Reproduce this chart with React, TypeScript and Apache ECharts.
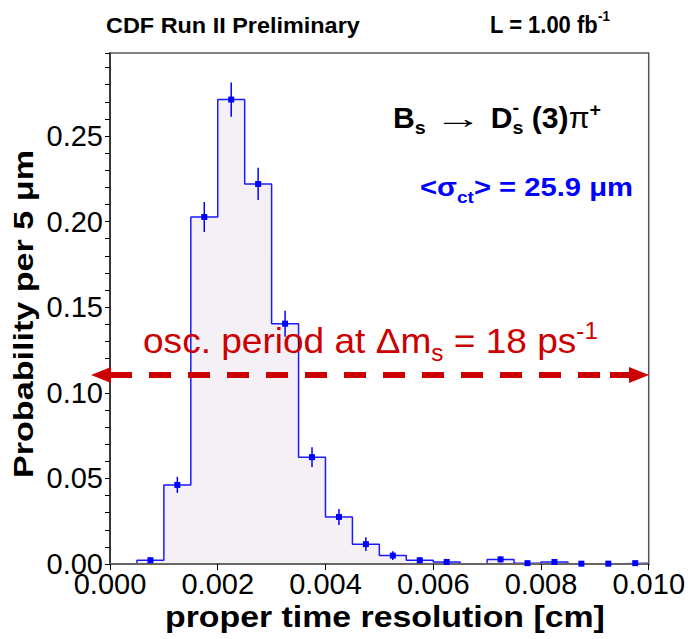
import React, { useEffect, useRef } from "react";
import * as echarts from "echarts";

// ---------------- data ----------------
const binStarts = [
  0.0, 0.0005, 0.001, 0.0015, 0.002, 0.0025, 0.003, 0.0035, 0.004, 0.0045,
  0.005, 0.0055, 0.006, 0.0065, 0.007, 0.0075, 0.008, 0.0085, 0.009, 0.0095,
];
const binWidth = 0.0005;
const probability = [
  0, 0.0022, 0.0462, 0.2027, 0.2713, 0.222, 0.1404, 0.0624, 0.0275, 0.0116,
  0.0049, 0.0022, 0.0012, 0, 0.0027, 0.0005, 0.0012, 0.0002, 0.0002, 0.0005,
];
const errors = [
  0, 0.0018, 0.0047, 0.0088, 0.01, 0.0094, 0.0076, 0.0058, 0.0047, 0.004,
  0.0025, 0.0018, 0.0012, 0, 0.0018, 0.0008, 0.0012, 0.0005, 0.0005, 0.0008,
];
const xMin = 0;
const xMax = 0.01;
const xInterval = 0.002;
const yMin = 0;
const yMax = 0.2985;
const yInterval = 0.05;

const FONT = "'Liberation Sans', Arial, Helvetica, sans-serif";

type Piece = {
  t: string;
  s: number;
  b?: boolean;
  dy?: number;
  stack?: boolean;
  c?: string;
  sx?: number;
};

function lineEls(
  ctx: CanvasRenderingContext2D,
  x0: number,
  base: number,
  pieces: Piece[],
  color: string,
  targetW?: number
) {
  const widths = pieces.map((p) => {
    ctx.font = `${p.b ? "bold" : "normal"} ${p.s}px ${FONT}`;
    return ctx.measureText(p.t).width * (p.sx || 1);
  });
  let total = 0;
  pieces.forEach((p, i) => {
    if (!p.stack) total += widths[i];
  });
  const f = targetW ? targetW / total : 1;
  let x = x0;
  const els: any[] = [];
  pieces.forEach((p, i) => {
    els.push({
      type: "text",
      x,
      y: base + (p.dy || 0) - 0.35 * p.s,
      scaleX: f * (p.sx || 1),
      silent: true,
      z: 100,
      style: {
        text: p.t,
        fontSize: p.s,
        fontWeight: p.b ? "bold" : "normal",
        fontFamily: FONT,
        fill: p.c || color,
        align: "left",
        verticalAlign: "middle",
      },
    });
    if (!p.stack) x += widths[i] * f;
  });
  return els;
}

export default function App() {
  const ref = useRef<HTMLDivElement>(null);

  useEffect(() => {
    if (!ref.current) return;
    const chart = echarts.init(ref.current, undefined, { renderer: "svg" });
    const canvas = document.createElement("canvas");
    const ctx = canvas.getContext("2d") as CanvasRenderingContext2D;

    const stepData = binStarts.map((x, i) => [x, probability[i]]);
    stepData.push([binStarts[binStarts.length - 1] + binWidth, probability[probability.length - 1]]);
    const errData = binStarts.map((x, i) => [x + binWidth / 2, probability[i], errors[i]]);

    const graphics: any[] = [];
    graphics.push(
      ...lineEls(ctx, 106, 33, [{ t: "CDF Run II Preliminary", s: 23, b: true }], "#000", 254)
    );
    graphics.push(
      ...lineEls(
        ctx,
        490,
        33,
        [
          { t: "L = 1.00 fb", s: 23, b: true },
          { t: "-1", s: 14, b: true, dy: -12 },
        ],
        "#000",
        120
      )
    );
    graphics.push(
      ...lineEls(
        ctx,
        393,
        128,
        [
          { t: "B", s: 29, b: true },
          { t: "s", s: 19, b: true, dy: 6 },
          { t: " ", s: 29 },
          { t: "\u2192", s: 29, sx: 1.6 },
          { t: " ", s: 29 },
          { t: "D", s: 29, b: true },
          { t: "-", s: 19, b: true, dy: -14, stack: true },
          { t: "s", s: 19, b: true, dy: 6 },
          { t: " (3)", s: 29, b: true },
          { t: "\u03c0", s: 29 },
          { t: "+", s: 19, b: true, dy: -12 },
        ],
        "#000",
        208
      )
    );
    graphics.push(
      ...lineEls(
        ctx,
        420,
        196,
        [
          { t: "<\u03c3", s: 26, b: true },
          { t: "ct", s: 17, b: true, dy: 7 },
          { t: "> = 25.9 \u03bcm", s: 26, b: true },
        ],
        "#0000ff",
        213
      )
    );
    graphics.push(
      ...lineEls(
        ctx,
        143,
        353,
        [
          { t: "osc. period at \u0394m", s: 35 },
          { t: "s", s: 23, dy: 8 },
          { t: " = 18 ps", s: 35 },
          { t: "-1", s: 23, dy: -14 },
        ],
        "#cc0000",
        455
      )
    );
    graphics.push(
      ...lineEls(ctx, 165, 627, [{ t: "proper time resolution [cm]", s: 30, b: true }], "#000", 440)
    );
    // y-axis title (rotated)
    {
      ctx.font = `bold 27px ${FONT}`;
      const w = ctx.measureText("Probability per 5 \u03bcm").width;
      graphics.push({
        type: "text",
        x: 24,
        y: 314,
        rotation: Math.PI / 2,
        scaleX: 328 / w,
        silent: true,
        z: 100,
        style: {
          text: "Probability per 5 \u03bcm",
          fontSize: 27,
          fontWeight: "bold",
          fontFamily: FONT,
          fill: "#000",
          align: "center",
          verticalAlign: "middle",
        },
      });
    }
    // arrow
    const red = "#cc0000";
    graphics.push({
      type: "line",
      silent: true,
      z: 90,
      shape: { x1: 110, y1: 375, x2: 632, y2: 375 },
      style: { stroke: red, lineWidth: 6, lineDash: [22, 17] },
    });
    graphics.push({
      type: "polygon",
      silent: true,
      z: 91,
      shape: { points: [[91, 375], [111, 367], [111, 383]] },
      style: { fill: red },
    });
    graphics.push({
      type: "polygon",
      silent: true,
      z: 91,
      shape: { points: [[649, 375], [629, 367], [629, 383]] },
      style: { fill: red },
    });
    graphics.push({
      type: "line",
      silent: true,
      z: 90,
      shape: { x1: 610, y1: 375, x2: 630, y2: 375 },
      style: { stroke: red, lineWidth: 6 },
    });

    chart.setOption({
      animation: false,
      backgroundColor: "#fff",
      grid: {
        left: 110,
        right: 39,
        top: 53,
        bottom: 75,
        show: true,
        borderColor: "#555",
        borderWidth: 1.5,
        backgroundColor: "#fff",
      },
      xAxis: {
        type: "value",
        min: xMin,
        max: xMax,
        interval: xInterval,
        z: 3,
        axisLine: { show: true, lineStyle: { color: "#666", width: 2 } },
        axisTick: { show: true, inside: false, length: 6, lineStyle: { color: "#000", width: 1 } },
        splitLine: { show: false },
        axisLabel: {
          fontSize: 29,
          fontFamily: FONT,
          color: "#000",
          margin: 5,
          formatter: (v: number) => v.toFixed(3),
        },
      },
      yAxis: {
        type: "value",
        min: yMin,
        max: yMax,
        interval: yInterval,
        z: 3,
        axisLine: { show: true, lineStyle: { color: "#222", width: 1.5 } },
        axisTick: { show: true, inside: false, length: 5, lineStyle: { color: "#000", width: 1 } },
        minorTick: { show: true, splitNumber: 5, length: 5, lineStyle: { color: "#000", width: 1 } },
        splitLine: { show: false },
        minorSplitLine: { show: false },
        axisLabel: {
          fontSize: 29,
          fontFamily: FONT,
          color: "#000",
          margin: 7,
          showMaxLabel: false,
          formatter: (v: number) => v.toFixed(2),
        },
      },
      series: [
        {
          type: "line",
          data: stepData,
          step: "end",
          symbol: "none",
          z: 1,
          lineStyle: { color: "#1a1aff", width: 1.5 },
          areaStyle: { color: "#f5f0f5", opacity: 1 },
        },
        {
          type: "custom",
          z: 5,
          data: errData,
          encode: { x: 0, y: 1 },
          renderItem: (params: any, api: any) => {
            const x = api.value(0);
            const y = api.value(1);
            const e = api.value(2);
            if (!(y > 0)) return null;
            const p = api.coord([x, y]);
            const top = api.coord([x, y + e]);
            const bot = api.coord([x, Math.max(0, y - e)]);
            return {
              type: "group",
              children: [
                {
                  type: "line",
                  shape: { x1: p[0], y1: top[1], x2: p[0], y2: bot[1] },
                  style: { stroke: "#0000ff", lineWidth: 1.5 },
                },
                {
                  type: "rect",
                  shape: { x: p[0] - 3, y: p[1] - 3, width: 6, height: 6 },
                  style: { fill: "#0000ff" },
                },
              ],
            };
          },
        },
      ],
      graphic: graphics,
    });

    return () => chart.dispose();
  }, []);

  return (
    <div
      ref={ref}
      style={{ position: "fixed", left: 0, top: 0, width: 688, height: 639 }}
    />
  );
}
